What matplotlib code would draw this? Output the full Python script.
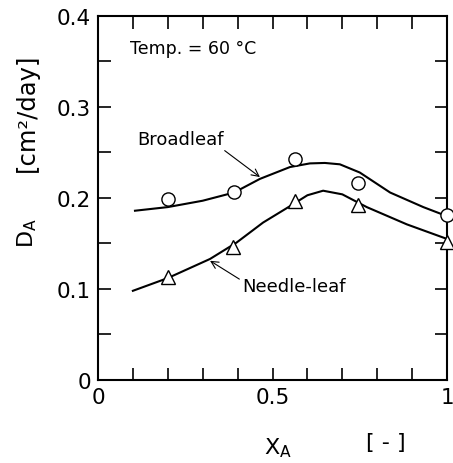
import numpy as np
import matplotlib.pyplot as plt

broad_x = [0.2, 0.39, 0.565, 0.745, 1.0]
broad_y = [0.199, 0.207, 0.243, 0.217, 0.181]
needle_x = [0.2, 0.387, 0.564, 0.745, 1.0]
needle_y = [0.113, 0.146, 0.197, 0.192, 0.152]

# hand-drawn fitted curves
broad_cx = [0.106, 0.2, 0.3, 0.39, 0.464, 0.55, 0.607, 0.65, 0.693, 0.75, 0.837, 0.932, 1.0]
broad_cy = [0.186, 0.190, 0.197, 0.206, 0.221, 0.234, 0.238, 0.2385, 0.237, 0.228, 0.206, 0.190, 0.180]
needle_cx = [0.1, 0.2, 0.321, 0.397, 0.473, 0.55, 0.6, 0.645, 0.70, 0.77, 0.885, 1.0]
needle_cy = [0.098, 0.112, 0.133, 0.151, 0.173, 0.191, 0.203, 0.208, 0.204, 0.190, 0.171, 0.155]

xticks = np.round(np.arange(0, 1.01, 0.1), 2)
xlabels = ['0', '', '', '', '', '0.5', '', '', '', '', '1']
yticks = np.round(np.arange(0, 0.401, 0.05), 3)
ylabels = ['0', '', '0.1', '', '0.2', '', '0.3', '', '0.4']

fig = plt.figure(figsize=(4.53, 4.64), dpi=100)
ax = fig.add_axes([0.2163, 0.1789, 0.7705, 0.7845])

ax.plot(broad_cx, broad_cy, color='black', lw=1.5)
ax.plot(needle_cx, needle_cy, color='black', lw=1.5)
ax.plot(broad_x, broad_y, 'o', ms=9.5, mfc='white', mec='black', mew=1.0, clip_on=False, zorder=3)
ax.plot(needle_x, needle_y, '^', ms=10.5, mfc='white', mec='black', mew=1.0, clip_on=False, zorder=3)

ax.set_xlim(0, 1)
ax.set_ylim(0, 0.4)
ax.set_xticks(xticks)
ax.set_xticklabels(xlabels, fontsize=15.5)
ax.set_yticks(yticks)
ax.set_yticklabels(ylabels, fontsize=15.5)
ax.tick_params(direction='in', length=9, width=1.2, top=True, right=True, pad=5)
for s in ax.spines.values():
    s.set_linewidth(1.5)

ax.text(0.092, 0.365, 'Temp. = 60 °C', fontsize=12.5, va='center', ha='left')
ax.annotate('Broadleaf', xy=(0.464, 0.223), xytext=(0.112, 0.265), fontsize=13,
            va='center', ha='left',
            arrowprops=dict(arrowstyle='->', lw=0.8, color='black', shrinkA=0, shrinkB=0,
                            relpos=(0.97, 0.0)))
ax.annotate('Needle-leaf', xy=(0.321, 0.131), xytext=(0.413, 0.103), fontsize=13,
            va='center', ha='left',
            arrowprops=dict(arrowstyle='->', lw=0.8, color='black', shrinkA=0, shrinkB=0,
                            relpos=(0.0, 0.8)))

# axis labels placed like the original
fig.text(27 / 453, 1 - 233 / 464, r'D$_\mathrm{A}$', fontsize=16, rotation=90, ha='center', va='center')
fig.text(27 / 453, 1 - 113 / 464, '[cm²/day]', fontsize=17.5, rotation=90, ha='center', va='center')
fig.text(278 / 453, 1 - 448 / 464, r'X$_\mathrm{A}$', fontsize=16, ha='center', va='center')
fig.text(386 / 453, 1 - 443 / 464, '[ - ]', fontsize=16, ha='center', va='center')

fig.savefig('out.png', dpi=100)
